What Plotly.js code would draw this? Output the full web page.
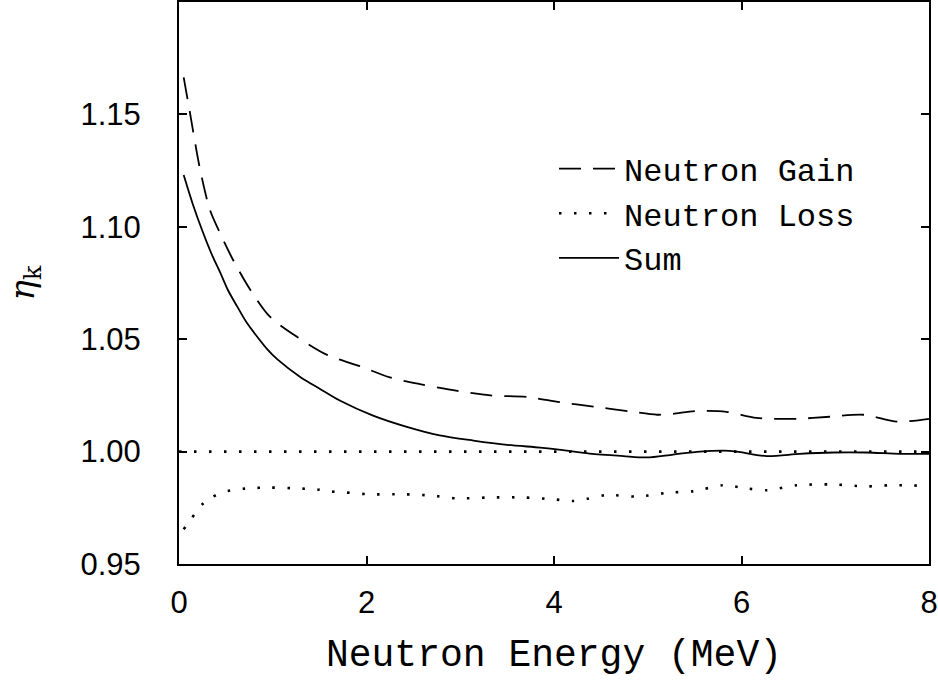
<!DOCTYPE html>
<html>
<head>
<meta charset="utf-8">
<script src="https://cdn.plot.ly/plotly-3.0.1.min.js"></script>
<style>html,body{margin:0;padding:0;background:#fff;}#chart{width:938px;height:682px;}</style>
</head>
<body>
<div id="chart"></div>
<script>
const gainX = [0.05,0.12,0.22,0.33,0.44,0.58,0.76,0.97,1.26,1.58,1.93,2.25,2.57,2.97,3.32,3.71,4.06,4.42,4.79,5.1,5.27,5.5,5.84,6.16,6.59,6.94,7.3,7.66,8.0];
const gainY = [1.1665,1.150,1.1265,1.1075,1.097,1.085,1.072,1.060,1.051,1.043,1.038,1.033,1.030,1.027,1.025,1.0243,1.022,1.020,1.018,1.0164,1.0168,1.018,1.0177,1.015,1.0146,1.0155,1.0164,1.0133,1.0146];

const lossX = [0.05,0.12,0.19,0.26,0.35,0.46,0.56,0.72,0.97,1.26,1.47,1.61,1.75,2.04,2.39,2.68,2.97,3.32,3.67,3.99,4.2,4.35,4.56,4.89,5.24,5.48,5.8,6.06,6.27,6.59,6.98,7.33,7.58,7.8,8.0];
const lossY = [0.9655,0.9695,0.9735,0.977,0.9796,0.9819,0.9828,0.9836,0.984,0.9836,0.9832,0.9823,0.9819,0.981,0.981,0.9805,0.9792,0.9796,0.9796,0.9788,0.978,0.979,0.9807,0.980,0.9818,0.9823,0.985,0.9836,0.9828,0.985,0.9854,0.9845,0.985,0.985,0.9845];

const sumX = [0.05,0.15,0.26,0.36,0.44,0.52,0.62,0.72,0.83,0.94,1.05,1.3,1.5,1.72,2.07,2.43,2.78,3.14,3.5,3.85,4.03,4.38,4.74,4.99,5.27,5.56,5.81,5.95,6.27,6.62,6.98,7.33,7.69,8.0];
const sumY = [1.123,1.1097,1.097,1.0867,1.0796,1.072,1.0646,1.0575,1.0513,1.0456,1.041,1.033,1.028,1.0226,1.016,1.011,1.0072,1.0049,1.003,1.0018,1.001,0.9991,0.998,0.9974,0.9987,1.0,1.0004,1.0,0.998,0.999,0.9996,0.9996,0.999,0.999];

const refX = [0, 8];
const refY = [1.0, 1.0];

const xTicks = [0, 2, 4, 6, 8];
const yTicks = [0.95, 1.00, 1.05, 1.10, 1.15];
const yTickText = ['0.95', '1.00', '1.05', '1.10', '1.15'];

const traces = [
  {x: gainX, y: gainY, mode: 'lines', name: 'Neutron Gain',
   line: {color: '#000', width: 1.8, dash: '22px,12px', shape: 'spline', smoothing: 0.8}},
  {x: lossX, y: lossY, mode: 'lines', name: 'Neutron Loss',
   line: {color: '#000', width: 2.6, dash: '2.5px,12.5px', shape: 'spline', smoothing: 0.8}},
  {x: sumX, y: sumY, mode: 'lines', name: 'Sum',
   line: {color: '#000', width: 1.8, shape: 'spline', smoothing: 0.8}},
  {x: refX, y: refY, mode: 'lines', showlegend: false, hoverinfo: 'skip',
   line: {color: '#000', width: 2.6, dash: '2.5px,12.5px'}}
];

const layout = {
  width: 938, height: 682,
  margin: {l: 179, r: 9, t: 2, b: 118},
  paper_bgcolor: '#fff', plot_bgcolor: '#fff',
  showlegend: true,
  legend: {x: 0.5, y: 0.752, xanchor: 'left', yanchor: 'top',
    bgcolor: 'rgba(0,0,0,0)', borderwidth: 0, itemwidth: 60,
    font: {family: 'Liberation Mono, monospace', size: 32, color: '#000'}},
  xaxis: {
    range: [0, 8], tickvals: xTicks, ticktext: xTicks.map(String),
    ticks: 'inside', ticklen: 8, tickwidth: 2, tickcolor: '#000',
    showline: true, linecolor: '#000', linewidth: 2, mirror: 'ticks',
    showgrid: false, zeroline: false, ticklabelstandoff: 10,
    tickfont: {family: 'Liberation Sans, Arial, sans-serif', size: 31, color: '#000'},
    title: {text: 'Neutron Energy (MeV)', standoff: 20,
      font: {family: 'Liberation Mono, monospace', size: 38, color: '#000'}}
  },
  yaxis: {
    range: [0.95, 1.2], tickvals: yTicks, ticktext: yTickText,
    ticks: 'inside', ticklen: 8, tickwidth: 2, tickcolor: '#000',
    showline: true, linecolor: '#000', linewidth: 2, mirror: 'ticks',
    showgrid: false, zeroline: false, ticklabelstandoff: 30,
    tickfont: {family: 'Liberation Sans, Arial, sans-serif', size: 31, color: '#000'},
    title: {text: '<i>η</i><sub>k</sub>', standoff: 36,
      font: {family: 'DejaVu Serif, serif', size: 34, color: '#000'}}
  }
};

Plotly.newPlot('chart', traces, layout, {displayModeBar: false, staticPlot: true});
</script>
</body>
</html>
